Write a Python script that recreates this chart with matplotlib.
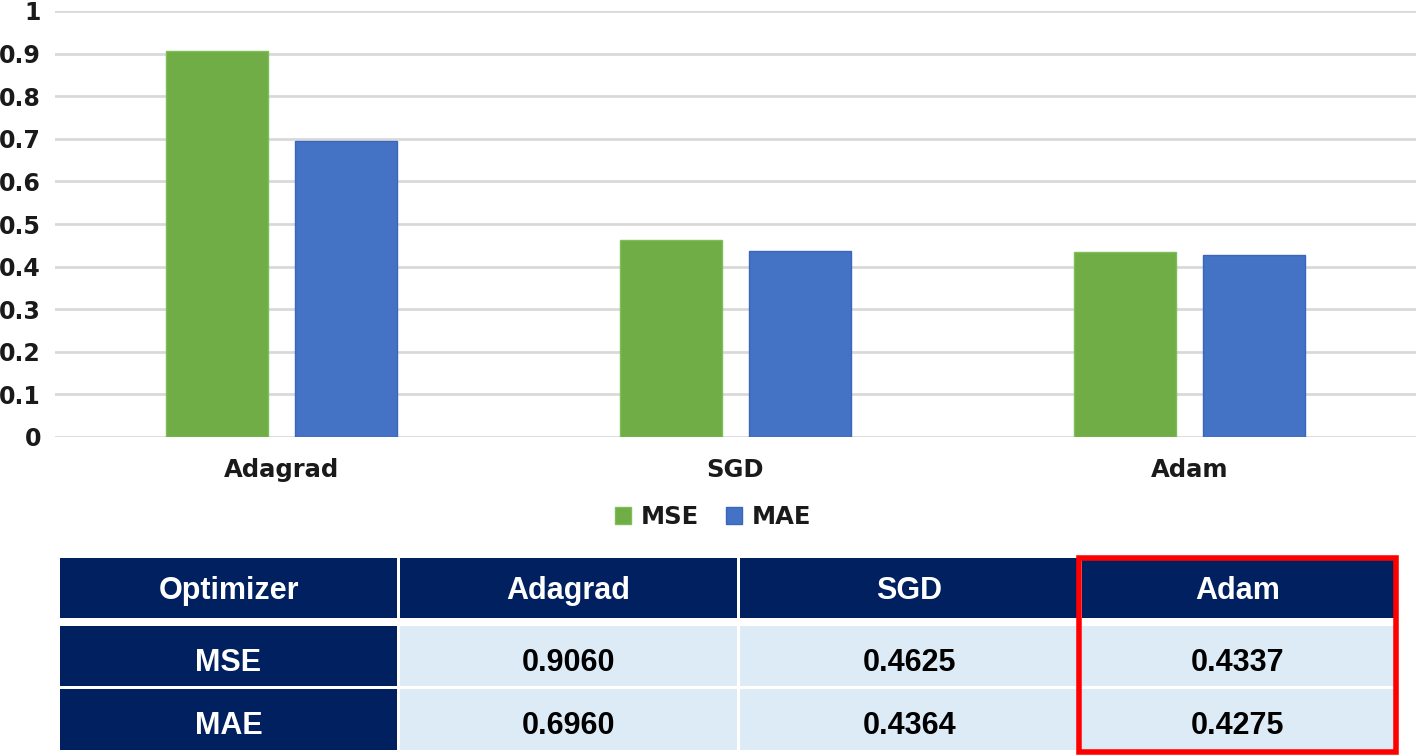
import matplotlib.pyplot as plt
import numpy as np
from matplotlib.patches import Rectangle

optimizers = ['Adagrad', 'SGD', 'Adam']
mse = [0.9060, 0.4625, 0.4337]
mae = [0.6960, 0.4364, 0.4275]
yticks = [0, 0.1, 0.2, 0.3, 0.4, 0.5, 0.6, 0.7, 0.8, 0.9, 1]
ytick_labels = ['0', '0.1', '0.2', '0.3', '0.4', '0.5', '0.6', '0.7', '0.8', '0.9', '1']

green = '#70AD47'
blue = '#4472C4'
navy = '#002060'
light = '#DDEBF7'

W, H = 1416, 756
fig = plt.figure(figsize=(W / 100, H / 100), dpi=100)

# bar chart
ax = fig.add_axes([55 / W, 1 - 437 / H, 1 - 55 / W, (437 - 11) / H])
x = np.arange(len(optimizers))
bw = 0.225
ax.bar(x - 0.142, mse, bw, color=green, edgecolor='#7DBF55', linewidth=1, label='MSE', zorder=3)
ax.bar(x + 0.142, mae, bw, color=blue, edgecolor='#3A66BD', linewidth=1, label='MAE', zorder=3)
ax.set_xlim(-0.5, 2.5)
ax.set_ylim(0, 1)
ax.set_yticks(yticks)
ax.set_yticklabels(ytick_labels)
ax.set_xticks(x)
ax.set_xticklabels(optimizers)
ax.grid(axis='y', color='#D9D9D9', linewidth=2, zorder=0)
ax.set_axisbelow(True)
for s in ax.spines.values():
    s.set_visible(False)
ax.tick_params(axis='y', length=0, pad=10, labelsize=17)
ax.tick_params(axis='x', length=0, pad=15, labelsize=17.5)
for lab in ax.get_xticklabels() + ax.get_yticklabels():
    lab.set_fontweight('bold')
    lab.set_color('#1A1A1A')

leg = fig.legend(loc='center', bbox_to_anchor=(713 / W, 1 - 517 / H), ncol=2,
                 frameon=False, prop={'weight': 'bold', 'size': 17.5},
                 handlelength=0.65, handleheight=0.65, handletextpad=0.4,
                 columnspacing=1.1)
for t in leg.get_texts():
    t.set_color('#1A1A1A')

# table below, drawn in pixel coords
tab = fig.add_axes([0, 0, 1, 1])
tab.set_xlim(0, W)
tab.set_ylim(H, 0)
tab.axis('off')
col_edges = [(60, 397), (400, 737), (740, 1079), (1082, 1394)]
row_edges = [(558, 618), (626, 686), (689, 750)]
text_shift = [3, 7, 7]
rows = [['Optimizer'] + optimizers,
        ['MSE'] + [f'{v:.4f}' for v in mse],
        ['MAE'] + [f'{v:.4f}' for v in mae]]
for r, (y0, y1) in enumerate(row_edges):
    for c, (x0, x1) in enumerate(col_edges):
        header = r == 0 or c == 0
        tab.add_patch(Rectangle((x0, y0), x1 - x0, y1 - y0,
                                facecolor=navy if header else light, edgecolor='none'))
        tab.text((x0 + x1) / 2, (y0 + y1) / 2 + text_shift[r], rows[r][c],
                 ha='center', va='center', fontsize=22, fontweight='bold',
                 family='Liberation Sans',
                 color='white' if header else 'black')

# red highlight around Adam column
tab.add_patch(Rectangle((1079, 557.5), 316.5, 194, facecolor='none',
                        edgecolor='#FF0000', linewidth=4))

fig.savefig('out.png', dpi=100)
